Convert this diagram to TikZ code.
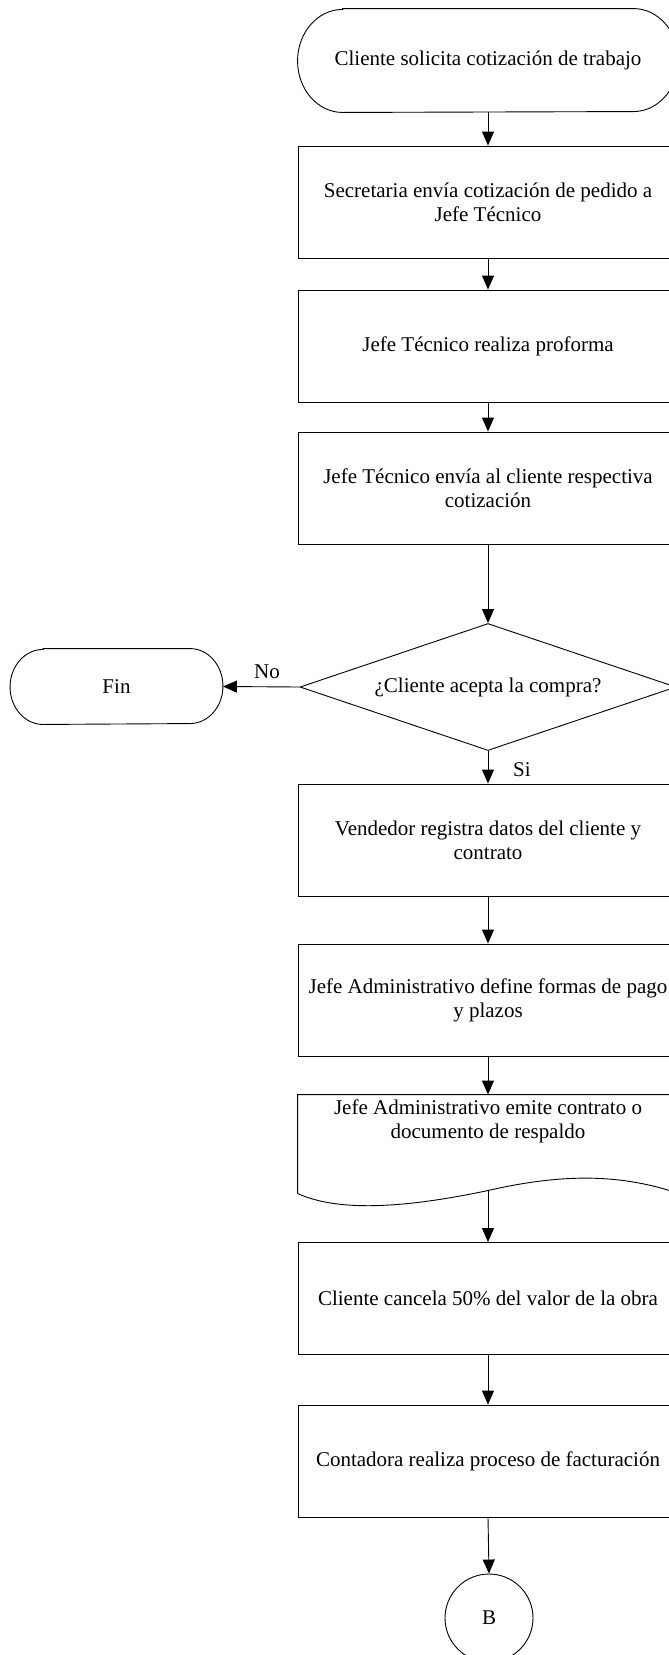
\documentclass[tikz,border=0pt]{standalone}
\usepackage{fontspec}
\setmainfont{Liberation Serif}
\usetikzlibrary{arrows.meta,shapes.geometric}
\begin{document}
\lineskiplimit=-100pt
\begin{tikzpicture}[x=1pt,y=-1pt,line width=0.9pt,
  every node/.style={font=\fontsize{21}{24}\selectfont},
  box/.style={draw, rectangle, minimum width=380pt, minimum height=112pt,
    align=center, inner sep=0pt},
  frame/.style={rectangle, inner sep=0pt, align=center},
  decision/.style={draw, diamond, aspect=2.96, minimum width=376pt,
    minimum height=127pt, inner sep=0pt, align=center},
  connector/.style={draw, circle, minimum size=88pt, inner sep=0pt},
  flow/.style={-{Triangle[length=14pt,width=12pt]}},
  lbl/.style={inner sep=0pt}]
\useasboundingbox (0,0) rectangle (669,1655);
\clip (0,0) rectangle (669,1655);

% start terminator
\node[frame, minimum width=380pt, minimum height=103pt] (start) at (488,60.5) {Cliente solicita cotización de trabajo};
\draw ([xshift=45pt]start.north west) -- ([xshift=-45pt]start.north east)
  arc[start angle=90, end angle=-90, x radius=45pt, y radius=51.5pt]
  -- ([xshift=45pt]start.south west)
  arc[start angle=270, end angle=90, x radius=45pt, y radius=51.5pt] -- cycle;

% process steps
\node[box] (b1) at (488,202) {Secretaria envía cotización de pedido a\\Jefe Técnico};
\node[box] (b2) at (488,346) {Jefe Técnico realiza proforma};
\node[box] (b3) at (488,488) {Jefe Técnico envía al cliente respectiva\\cotización};

% decision
\node[decision] (dec) at (488,687) {¿Cliente acepta la compra?};

% end terminator
\node[frame, minimum width=212pt, minimum height=75pt] (fin) at (116.5,686.5) {Fin};
\draw ([xshift=33pt]fin.north west) -- ([xshift=-33pt]fin.north east)
  arc[start angle=90, end angle=-90, x radius=33pt, y radius=37.5pt]
  -- ([xshift=33pt]fin.south west)
  arc[start angle=270, end angle=90, x radius=33pt, y radius=37.5pt] -- cycle;

\node[box] (b4) at (488,840) {Vendedor registra datos del cliente y\\contrato};
\node[box] (b5) at (488,1000) {Jefe Administrativo define formas de pago\\y plazos};

% document shape
\node[frame, minimum width=380pt, minimum height=98pt] (doc) at (488,1144) {};
\node[lbl, align=center] (doctext) at (488,1121) {Jefe Administrativo emite contrato o\\documento de respaldo};
\coordinate (docbot) at (488,1190.5);
\draw (doc.south west) -- (doc.north west) -- (doc.north east) -- (doc.south east)
  .. controls (616,1172) and (556,1175) .. (docbot)
  .. controls (410,1207) and (340,1213) .. (doc.south west);

\node[box] (b6) at (488,1298.5) {Cliente cancela 50\%\ del valor de la obra};
\node[box] (b7) at (488,1461) {Contadora realiza proceso de facturación};

% off-page connector
\node[connector] (B) at (489,1618) {B};

% connectors
\draw[flow] (start) -- (b1);
\draw[flow] (b1) -- (b2);
\draw[flow] (b2) -- (b3);
\draw[flow] (b3) -- (dec);
\draw[flow] (dec.west) -- (fin.east);
\draw[flow] (dec.south) -- (b4.north);
\draw[flow] (b4) -- (b5);
\draw[flow] (b5.south) -- (doc.north);
\draw[flow] (docbot) -- (b6.north);
\draw[flow] (b6) -- (b7);
\draw[flow] (b7.south) -- (B.north);

% branch labels
\node[lbl] (no) at (267,672) {No};
\node[lbl] (si) at (522,770) {Si};
\end{tikzpicture}
\end{document}
